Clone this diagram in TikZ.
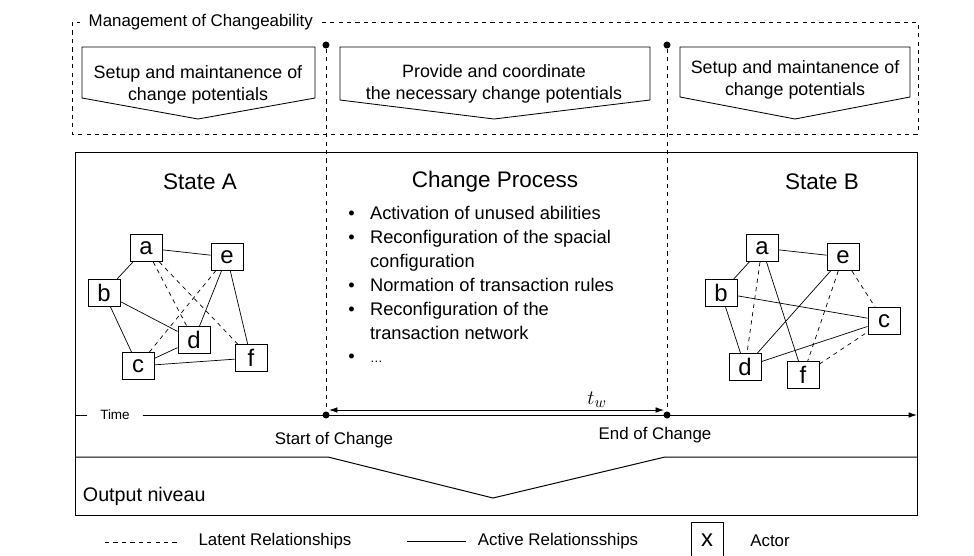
\documentclass[tikz,border=0pt]{standalone}
\usepackage{fontspec}
\setmainfont{Liberation Sans}
\usetikzlibrary{arrows.meta}

\newcommand{\mgmtfont}{\fontsize{12}{14}\selectfont}
\newcommand{\chevfont}{\fontsize{12.7}{15.5}\selectfont}
\newcommand{\titlefont}{\fontsize{16}{18}\selectfont}
\newcommand{\listfont}{\fontsize{13}{17}\selectfont}
\newcommand{\bul}{\makebox[15.5pt][l]{\textbullet}}

\tikzset{
  actor/.style={draw, fill=white, minimum width=23pt, minimum height=19.5pt, inner sep=0pt, font=\fontsize{17}{17}\selectfont},
  latent/.style={dashed, line width=0.5pt},
  active/.style={line width=0.5pt},
  chev/.style={draw, line width=0.6pt},
  dot/.style={circle, fill, inner sep=0pt, minimum size=5pt},
}

\begin{document}
\begin{tikzpicture}[x=0.025cm, y=-0.025cm, font=\mgmtfont]
\useasboundingbox (0,0) rectangle (974,555);

% management frame with its three phases
\draw [dashed, line width=0.6pt] (72,22) rectangle (918,134);
\node [fill=white, anchor=west, inner xsep=6pt, inner ysep=2pt] (mgmt) at (80,22) {Management of Changeability};
\draw [chev] (82,47) -- (315,47) -- (315,98) -- (198,119) -- (82,98) -- cycle;
\draw [chev] (340,47) -- (650,47) -- (650,100) -- (494,119) -- (340,100) -- cycle;
\draw [chev] (680,47) -- (910,47) -- (910,97) -- (795,119) -- (680,97) -- cycle;
\node [font=\chevfont, align=center] (setupA) at (198,85) {Setup and maintanence of\\change potentials};
\node [font=\chevfont, align=center] (provide) at (494,84) {Provide and coordinate\\the necessary change potentials};
\node [font=\chevfont, align=center] (setupB) at (795,80) {Setup and maintanence of\\change potentials};

% main frame
\draw [line width=0.7pt] (75,152) rectangle (917,515);
\node [font=\titlefont] (stateA) at (200,182) {State A};
\node [font=\titlefont] (process) at (495,182) {Change Process};
\node [font=\titlefont] (stateB) at (822,182) {State B};

\node [anchor=north west, align=left, font=\listfont, inner sep=0pt] (steps) at (348,206) {%
\bul Activation of unused abilities\\
\bul Reconfiguration of the spacial\\
\hphantom{\bul}configuration\\
\bul Normation of transaction rules\\
\bul Reconfiguration of the\\
\hphantom{\bul}transaction network\\
\bul {\fontsize{9}{17}\selectfont\ldots}};

% actors in state A
\node [actor] (aA) at (146,248) {a};
\node [actor] (eA) at (227,257) {e};
\node [actor] (bA) at (104,293) {b};
\node [actor] (dA) at (194,340) {d};
\node [actor] (cA) at (138,366) {c};
\node [actor] (fA) at (251,358) {f};
\draw [active] (aA) -- (bA) (aA) -- (eA) (bA) -- (dA) (bA) -- (cA)
  (cA) -- (dA) (cA) -- (fA) (eA) -- (dA) (eA) -- (fA);
\draw [latent] (aA) -- (dA) (aA) -- (fA) (cA) -- (eA);

% actors in state B
\node [actor] (aB) at (762,248) {a};
\node [actor] (eB) at (843,257) {e};
\node [actor] (bB) at (721,293) {b};
\node [actor] (cB) at (884,321) {c};
\node [actor] (dB) at (745,367) {d};
\node [actor] (fB) at (803,375) {f};
\draw [active] (aB) -- (bB) (aB) -- (eB) (aB) -- (fB) (bB) -- (dB)
  (bB) -- (cB) (dB) -- (eB) (dB) -- (cB);
\draw [latent] (aB) -- (dB) (eB) -- (fB) (eB) -- (cB) (fB) -- (cB);

% time axis
\node [dot] (startTop) at (326,45) {};
\node [dot] (endTop) at (667,45) {};
\node [dot] (start) at (326,415) {};
\node [dot] (end) at (667,415) {};
\draw [dashed, line width=0.6pt] (startTop) -- (start);
\draw [dashed, line width=0.6pt] (endTop) -- (end);

\coordinate (t0) at (75,415);
\coordinate (t1) at (917,415);
\node [font=\fontsize{9.6}{11}\selectfont, inner xsep=9pt] (time) at (115,415) {Time};
\draw [line width=0.7pt] (t0) -- (time.west);
\draw [line width=0.7pt, -{Latex[length=6pt, width=4pt]}] (time.east) -- (t1);

\coordinate (tws) at (329,410);
\coordinate (twe) at (664,410);
\draw [line width=0.6pt, {Latex[length=6pt, width=4pt]}-{Latex[length=6pt, width=4pt]}] (tws) -- (twe);
\node [font=\fontsize{15}{15}\selectfont] (tw) at (597,400) {$t_w$};

\node (startlbl) at (334,440) {Start of Change};
\node (endlbl) at (655,435) {End of Change};

% output level
\draw [line width=0.7pt] (75,457) -- (328,457) -- (493,498) -- (665,457) -- (917,457);
\node [anchor=west, font=\fontsize{14}{16}\selectfont] (output) at (78,496) {Output niveau};

% legend
\coordinate (lat0) at (105,542);
\coordinate (lat1) at (177,542);
\draw [latent] (lat0) -- (lat1);
\node (latlbl) at (275,541) {Latent Relationships};
\coordinate (act0) at (407,541);
\coordinate (act1) at (466,541);
\draw [active] (act0) -- (act1);
\node (actlbl) at (558,541) {Active Relationsships};
\node [actor, anchor=north, minimum height=26pt] (xbox) at (707,522) {x};
\node (actorlbl) at (770,541) {Actor};
\end{tikzpicture}
\end{document}
